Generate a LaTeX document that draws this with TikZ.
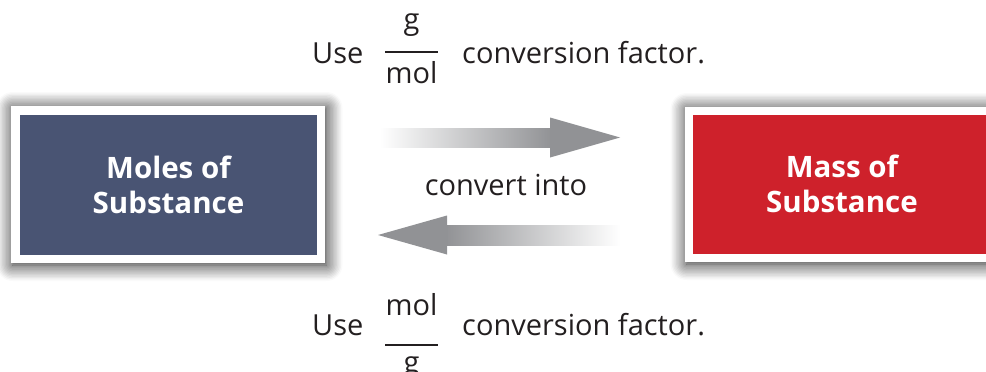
\documentclass[tikz,border=0pt]{standalone}
\usepackage{fontspec}
\setmainfont{Open Sans}
\usetikzlibrary{shadows.blur,calc}
\definecolor{molblue}{RGB}{73,84,115}
\definecolor{massred}{RGB}{206,33,43}
\definecolor{txt}{RGB}{35,31,32}
\definecolor{agray}{RGB}{145,146,149}
\begin{document}
\begin{tikzpicture}[x=1pt,y=-1pt,
  frame/.style={fill=white, draw=none, inner sep=0pt,
    blur shadow={shadow xshift=1.5pt, shadow yshift=-2pt, shadow blur radius=16pt, shadow blur steps=12, shadow opacity=90}},
  boxfill/.style={draw=none, inner sep=0pt, text=white, align=center,
    font=\bfseries\fontsize{29.5}{35}\selectfont},
  lbl/.style={inner sep=0pt, anchor=base west, text=txt, font=\fontsize{29}{35}\selectfont},
  fracpart/.style={inner sep=0pt, anchor=base, text=txt, font=\fontsize{29}{35}\selectfont},
  fracbar/.style={draw=txt, line width=2.2pt},
  shaft/.style={draw=none},
  head/.style={fill=agray, draw=none}]
\useasboundingbox (0,0) rectangle (986,372);
\clip (0,0) rectangle (986,372);

% boxes
\node[frame, minimum width=314pt, minimum height=157pt] (molesframe) at (168,184.5) {};
\node[boxfill, fill=molblue, minimum width=297pt, minimum height=140pt] (moles) at (168.5,185) {Moles of\\Substance};
\node[frame, minimum width=314pt, minimum height=155pt] (massframe) at (842,184.5) {};
\node[boxfill, fill=massred, minimum width=298pt, minimum height=139pt] (mass) at (842,184) {Mass of\\Substance};

% arrows
\coordinate (t1) at (380,137.5);
\coordinate (t2) at (620,137.5);
\coordinate (b1) at (620,235);
\coordinate (b2) at (378,235);
\shade[shaft, left color=white, right color=agray] ($(t1)+(0,-9.5)$) rectangle ($(t2)+(-68,9.5)$);
\fill[head] ($(t2)+(-70,-20)$) -- (t2) -- ($(t2)+(-70,20)$) -- cycle;
\shade[shaft, left color=agray, right color=white] ($(b2)+(67,-10)$) rectangle ($(b1)+(0,10)$);
\fill[head] ($(b2)+(69,-19.5)$) -- (b2) -- ($(b2)+(69,19.5)$) -- cycle;

\node[fracpart] (conv) at (506,195) {convert into};

% top label
\node[lbl] (use1) at (312,63) {Use};
\node[fracpart] (num1) at (411.5,30) {g};
\node[fracpart] (den1) at (411.5,83) {mol};
\draw[fracbar] (385,52) -- (438,52);
\node[lbl] (cf1) at (462,63) {conversion factor.};

% bottom label
\node[lbl] (use2) at (312,335) {Use};
\node[fracpart] (num2) at (411.5,315) {mol};
\node[fracpart] (den2) at (411.5,372) {g};
\draw[fracbar] (385,345) -- (438,345);
\node[lbl] (cf2) at (462,335) {conversion factor.};
\end{tikzpicture}
\end{document}
